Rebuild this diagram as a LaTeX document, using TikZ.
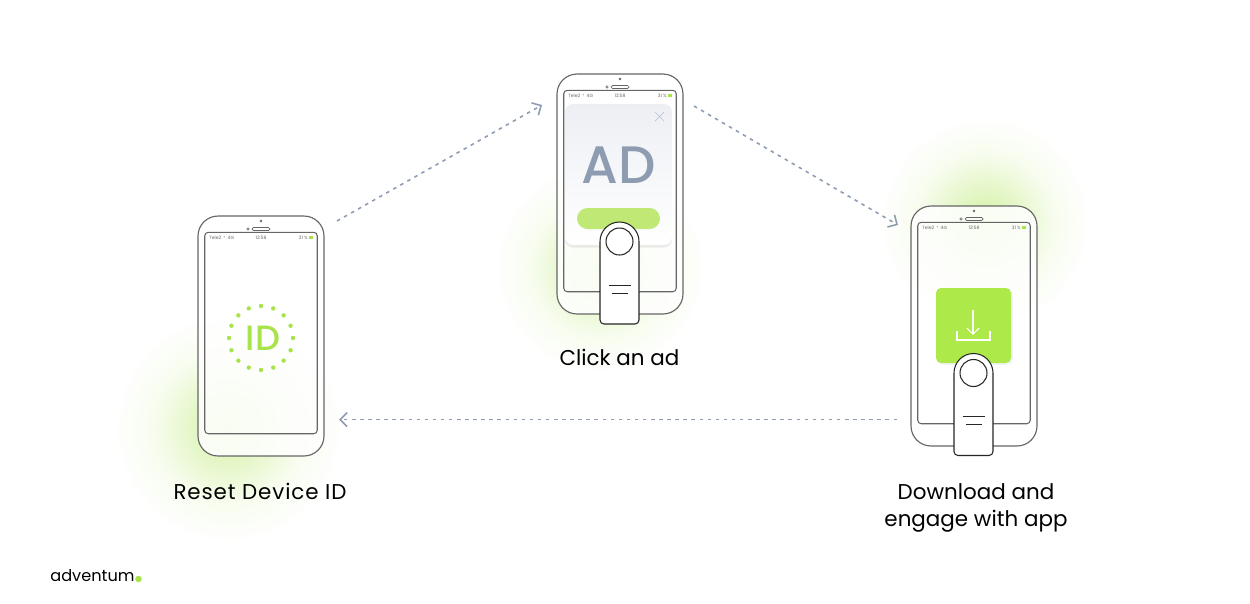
\documentclass[tikz,border=0pt]{standalone}
\usepackage{fontspec}
\usepackage{xcolor}
\usetikzlibrary{arrows.meta,shadows}
\setmainfont{Poppins}
\newfontfamily\adfont{Poppins Medium}

\definecolor{idgreen}{HTML}{A9E34B}
\definecolor{btngreen}{HTML}{BFE974}
\definecolor{boxgreen}{HTML}{AEE94A}
\definecolor{slate}{HTML}{8E9CB2}
\definecolor{cardtop}{HTML}{EDEFF4}
\definecolor{phoneline}{HTML}{666666}
\pgfdeclareradialshading{glowfade}{\pgfpointorigin}{
	color(0bp)=(idgreen!50!white);
	color(7.5bp)=(idgreen!30!white);
	color(15bp)=(idgreen!9!white);
	color(23bp)=(white);
	color(50bp)=(white)}

\tikzset{
	phone/.style={draw=phoneline,fill=white,fill opacity=0.85,line width=0.65pt,minimum width=2.52cm,minimum height=4.8cm,rounded corners=0.4cm,inner sep=0pt},
	screen/.style={draw=phoneline,line width=0.6pt,minimum width=2.25cm,minimum height=4.03cm,rounded corners=0.07cm,inner sep=0pt},
	statustext/.style={font=\fontsize{2.6}{3}\selectfont,text=phoneline,inner sep=0pt},
	caption/.style={font=\fontsize{12.2}{15.3}\selectfont,align=center,inner sep=0pt,text=black},
	flow/.style={draw=slate,line width=0.9pt,dash pattern=on 2pt off 2.6pt,-{Straight Barb[length=4pt,width=8pt,line width=0.9pt]}},
	fingerline/.style={draw=black!85,line width=0.6pt,fill=white},
}

\begin{document}
\begin{tikzpicture}[x=0.02cm,y=-0.02cm]
	\useasboundingbox (0,0) rectangle (1250,603);
	
	% glows
	\shade[shading=glowfade] (228,428) circle (125);
	\shade[shading=glowfade] (600,268) circle (115);
	\shade[shading=glowfade] (985,222) circle (115);
	
	% phones
	\foreach \name/\x/\y in {reset/198/216,click/557/74,download/911/206}
	{
		\node[phone] (\name phone) at (\x+63,\y+120) {};
		\node[screen] (\name screen) at (\x+63,\y+117) {};
		\node[circle,fill=phoneline,inner sep=0pt,minimum size=1.6pt] (\name cam) at (\x+63,\y+5) {};
		\node[circle,draw=phoneline,line width=0.3pt,inner sep=0pt,minimum size=1.5pt] (\name lens) at (\x+50,\y+13) {};
		\node[draw=phoneline,line width=0.4pt,rounded corners=0.03cm,minimum width=0.36cm,minimum height=0.06cm,inner sep=0pt] (\name speaker) at (\x+63,\y+13) {};
		\node[statustext,anchor=west] (\name carrier) at (\x+11,\y+21.5) {Tele2 \(\cdot\) 4G};
		\node[statustext] (\name clock) at (\x+63,\y+21.5) {12:58};
		\node[statustext,anchor=east] (\name charge) at (\x+110,\y+21.5) {31 \%};
		\node[fill=idgreen,minimum width=0.09cm,minimum height=0.05cm,inner sep=0pt,anchor=west] (\name battery) at (\x+110.6,\y+21.5) {};
	}
	
	% reset screen
	\foreach \a in {0,22.5,...,337.5}
	{
		\fill[idgreen] (261,338) ++(\a:32) circle (2.2);
	}
	\node[font=\fontsize{20}{20}\adfont\selectfont,text=idgreen,inner sep=0pt] (idtext) at (263,338.5) {ID};
	
	% ad card
	\node[minimum width=2.14cm,minimum height=2.82cm,rounded corners=0.16cm,top color=cardtop,bottom color=white,drop shadow={shadow xshift=0pt,shadow yshift=-1.5pt,opacity=0.07,fill=black},inner sep=0pt] (adcard) at (618.5,174.5) {};
	\node[font=\fontsize{30}{30}\adfont\selectfont,text=slate,inner sep=0pt] (adtext) at (618.5,165.5) {AD};
	\node[fill=btngreen,minimum width=1.66cm,minimum height=0.42cm,rounded corners=0.21cm,inner sep=0pt] (adbutton) at (618.5,218.5) {};
	\coordinate (closeA) at (655,112);
	\coordinate (closeB) at (664,121);
	\coordinate (closeC) at (664,112);
	\coordinate (closeD) at (655,121);
	\draw[slate!60,line width=0.4pt] (closeA) -- (closeB);
	\draw[slate!60,line width=0.4pt] (closeC) -- (closeD);
	
	% download box
	\node[fill=boxgreen,minimum width=1.5cm,minimum height=1.5cm,rounded corners=0.1cm,drop shadow={shadow xshift=1pt,shadow yshift=-1pt,opacity=0.12,fill=slate},inner sep=0pt] (dlbox) at (973.5,325.5) {};
	\coordinate (dltop) at (973,310);
	\coordinate (dlend) at (973,335);
	\draw[white,line width=0.6pt,-{Straight Barb[length=3.6pt,width=7pt,line width=0.6pt]}] (dltop) -- (dlend);
	\draw[white,line width=0.6pt] (957,331) -- (957,340) -- (990,340) -- (990,331);
	
	% fingers
	\foreach \x/\y in {619.5/222,973.5/353.5}
	{
		\draw[fingerline] (\x-19.5,\y+50) [rounded corners=0.39cm] -- (\x-19.5,\y) -- (\x+19.5,\y) -- (\x+19.5,\y+50) [rounded corners=0.08cm] -- (\x+19.5,\y+102) -- (\x-19.5,\y+102) -- cycle;
		\draw[fingerline] (\x,\y+19.5) circle (13.5);
		\draw[black!85,line width=0.5pt] (\x-11,\y+63) -- (\x+11,\y+63);
		\draw[black!85,line width=0.5pt] (\x-8,\y+71) -- (\x+8,\y+71);
	}
	
	% connectors
	\coordinate (resetout) at (337,221);
	\coordinate (clickin) at (542,105);
	\coordinate (clickout) at (694,106);
	\coordinate (downloadin) at (898,225);
	\coordinate (downloadout) at (897,419.5);
	\coordinate (resetin) at (339,419.5);
	\draw[flow] (resetout) -- (clickin);
	\draw[flow] (clickout) -- (downloadin);
	\draw[flow] (downloadout) -- (resetin);
	
	% captions
	\node[caption] (resetlabel) at (260,491) {\addfontfeature{LetterSpace=4}Reset Device ID};
	\node[caption] (clicklabel) at (619.5,357) {Click an ad};
	\node[caption] (downloadlabel) at (976,508) {Download and\\engage with app};
	
	% logo
	\node[font=\fontsize{9.2}{12}\selectfont,text=black,anchor=west,inner sep=0pt] (logotext) at (50,576) {adventum};
	\node[circle,fill=idgreen,inner sep=0pt,minimum size=0.13cm] (logodot) at (138.5,579) {};
\end{tikzpicture}
\end{document}
